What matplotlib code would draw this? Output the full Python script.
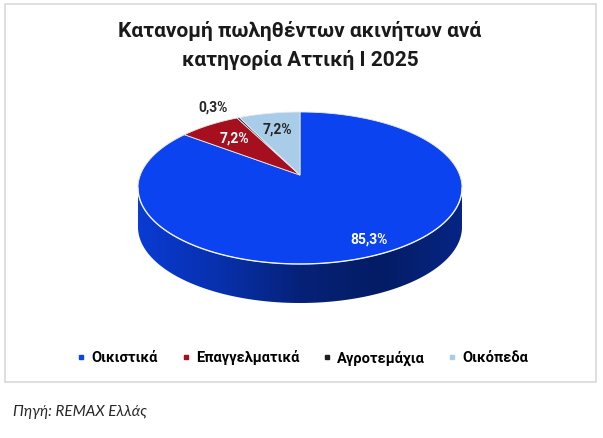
import numpy as np
import matplotlib.pyplot as plt
from matplotlib.patches import Polygon, Rectangle
from matplotlib.lines import Line2D
from matplotlib.colors import LinearSegmentedColormap, to_rgb

plt.rcParams['font.family'] = ['Roboto', 'DejaVu Sans']

# --- data ---
categories = ['Οικιστικά', 'Επαγγελματικά', 'Αγροτεμάχια', 'Οικόπεδα']
shares = [85.3, 7.2, 0.3, 7.2]
labels = ['85,3%', '7,2%', '0,3%', '7,2%']
title_lines = ['Κατανομή πωληθέντων ακινήτων ανά', 'κατηγορία Αττική Ι 2025']
source = 'Πηγή: REMAX Ελλάς'

colors = ['#0b43f0', '#a50f1e', '#1e1e1e', '#a9cce8']
label_colors = ['white', 'white', '#262626', '#262626']
label_r = [0.85, 0.7, 1.2, 0.7]

# pie geometry in pixel units
cx, cy = 300, 188
a, b = 162, 76
depth = 39
k = 0.17  # perspective: pie centre is pushed towards the back

fig = plt.figure(figsize=(6.03, 4.38), dpi=100)
ax = fig.add_axes([0, 0, 1, 1])
ax.set_xlim(0, 603)
ax.set_ylim(438, 0)
ax.axis('off')

# chart frame
ax.add_patch(Rectangle((5, 4), 591, 378, fill=False, ec='#d9d9d9', lw=1.2))


def proj(u, v):
    """perspective map of the unit disc onto itself, then to the ellipse"""
    s = 1 + k * v
    up = u * np.sqrt(1 - k ** 2) / s
    vp = (v + k) / s
    return up, vp


def to_px(up, vp, dy=0):
    return cx + a * up, cy - b * vp + dy


def circ(t, r=1.0):
    t = np.radians(t)
    return proj(r * np.cos(t), r * np.sin(t))


fracs = np.array(shares) / sum(shares)
ends = 90 - 360 * np.cumsum(fracs)
starts = np.concatenate([[90], ends[:-1]])

# side walls (front half only), with horizontal shading
for t0, t1, col in zip(ends, starts, colors):
    up, vp = circ(np.linspace(t1, t0, 600))
    front = vp <= 0
    if front.sum() < 2:
        continue
    # order the front points left-to-right along the rim
    ang = np.degrees(np.arctan2(vp[front], up[front])) % 360
    ang = np.sort(ang)
    xt, yt = to_px(np.cos(np.radians(ang)), np.sin(np.radians(ang)))
    xb, yb = xt[::-1], yt[::-1] + depth
    poly = Polygon(np.column_stack([np.r_[xt, xb], np.r_[yt, yb]]),
                   closed=True, fc='none', ec='none')
    ax.add_patch(poly)
    c = np.array(to_rgb(col))
    cmap = LinearSegmentedColormap.from_list(
        's', [c * 0.88, c * 0.72, c * 0.5, c * 0.42, c * 0.55])
    grad = np.linspace(0, 1, 256)[None, :]
    im = ax.imshow(grad, cmap=cmap, aspect='auto', origin='upper',
                   extent=(cx - a, cx + a, cy + b + depth + 2, cy - 5))
    im.set_clip_path(poly)

# white rim between top face and side
ts = np.radians(np.linspace(180, 360, 200))
ax.plot(*to_px(np.cos(ts), np.sin(ts)), color='white', lw=1.0, alpha=0.8)

# top faces
apex = to_px(*proj(0.0, 0.0))
for t0, t1, col in zip(ends, starts, colors):
    xs, ys = to_px(*circ(np.linspace(t1, t0, max(int(abs(t1 - t0)) * 2, 4))))
    pts = np.column_stack([np.r_[apex[0], xs], np.r_[apex[1], ys]])
    ax.add_patch(Polygon(pts, closed=True, fc=col, ec='#e8e8f0', lw=0.6))

# data labels
for t0, t1, lab, lc, r in zip(ends, starts, labels, label_colors, label_r):
    tm = (t0 + t1) / 2
    x, y = to_px(*circ(tm, r))
    ha = 'center'
    if r > 1:
        ha = 'right' if np.cos(np.radians(tm)) < 0 else 'left'
    ax.text(x, y, lab, ha=ha, va='center', fontsize=10,
            fontweight='bold', color=lc)

# title
for i, line in enumerate(title_lines):
    ax.text(300, 37 + 29 * i, line, ha='center', va='baseline', fontsize=15,
            fontweight='bold', color='#1a1a1a')

# legend
handles = [Line2D([], [], marker='s', ls='none', color=c, markersize=3.5)
           for c in colors]
ax.legend(handles, categories, loc='center', bbox_to_anchor=(303 / 603, 1 - 358 / 438),
          ncol=4, frameon=False, handlelength=0.5, handletextpad=0.45,
          columnspacing=1.65, borderpad=0, prop={'weight': 'bold', 'size': 10.5})

# source note
ax.text(13, 412, source, ha='left', va='center', fontsize=11,
        style='italic', color='#262626', family=['Lato', 'DejaVu Sans'])

fig.savefig('out.png', dpi=100)
